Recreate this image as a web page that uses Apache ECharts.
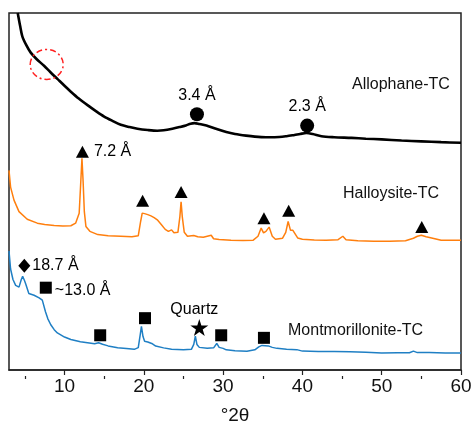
<!DOCTYPE html>
<html>
<head>
<meta charset="utf-8">
<script src="https://cdn.jsdelivr.net/npm/echarts@6/dist/echarts.min.js"></script>
<style>
html,body{margin:0;padding:0;background:#fff;}
#c{width:475px;height:430px;}
</style>
</head>
<body>
<div id="c"></div>
<script>
// ---- Data (2θ in degrees, intensity in arbitrary units with vertical offsets) ----
var allophaneX = [4.1,4.4,4.68,5.2,5.74,6.5,7.42,8.2,9.1,10.0,10.8,11.8,12.9,14.0,15.0,16.0,17.1,18.2,19.2,20.5,21.7,22.5,23.6,24.5,25.3,25.9,26.4,27.0,27.9,29.0,30.4,31.5,32.9,34.0,35.4,36.5,38.0,39.0,39.7,40.5,41.3,42.4,44.0,46.2,48,50,52.5,55,57.5,60];
var allophaneY = [363,350,339.3,330,322.7,316,309.3,303,296,289,283,276,269.3,263,257.7,253.5,249.3,247,245.3,244,243.3,243.7,245.3,247,248.7,250.5,251,250.2,248.7,245.5,242,240,238.3,237.3,236.7,236.7,237.7,239,240,241,240,237.7,236.7,236,235.2,234.5,233.3,232.5,231.7,231];

var halloysiteX = [3.0,3.2,3.63,4.26,5.3,6.57,7.5,8.7,9.8,10.8,11.4,11.85,12.05,12.2,12.35,12.5,12.7,13.2,14.2,15.5,17.1,18.5,19.3,19.6,19.8,20.1,20.5,20.9,21.3,21.7,22.2,22.7,23.1,23.5,23.8,24.3,24.55,24.7,24.85,25.1,25.5,26.3,26.8,27.5,28.5,28.8,29.5,31.0,32.5,33.8,34.4,34.8,35.1,35.4,35.8,36.2,36.6,37.5,37.9,38.2,38.5,38.8,39.0,39.4,40.0,41.5,43.0,44.5,45.1,45.5,47.0,49.0,51.0,53.0,54.0,54.5,55.0,55.6,56.3,57.5,59.0,60.0];
var halloysiteY = [203,186,172.7,161,153.3,149.3,148,147,146.5,146.7,149.3,159.3,191,215.3,191,161,146,141,137.7,136.5,136,135.5,136.5,151,159.5,159,158,156.7,155,152.7,148,143,141,142.5,139.5,140,156,171,156,140,136,136.7,135.5,135,137,133.5,132.7,132,131.7,132,136,144.3,139.5,141,145.3,136,133,134,140,151,142,142,142.5,134.3,133,132.3,132,132.5,136,132.5,131.5,131,131,131.5,134,136,137,135.5,134.3,132,132,132];

var montmorilloniteX = [3.0,3.2,3.5,3.84,4.26,4.55,4.72,4.95,5.1,5.5,6.16,6.8,7.2,7.6,7.9,8.27,8.7,9.1,10.0,10.8,12.0,12.9,13.8,14.3,14.8,15.5,16.7,17.8,18.8,19.3,19.55,19.7,19.9,20.1,20.5,20.7,21.0,21.5,22.5,23.5,25.0,26.0,26.3,26.5,26.7,27.0,28.0,28.8,29.2,29.5,30.0,30.4,31.5,33.0,34.0,34.5,34.9,35.7,36.2,36.8,38.0,39.3,40.0,42.0,44.0,46.0,48.0,50.0,52.0,53.5,54.0,54.5,56.0,58.0,60.0];
var montmorilloniteY = [121,102.7,92,86,84.3,92,95.3,91,87.7,77.7,76,73.3,71,59.3,52,46,41,37.7,33.5,31,28.7,27.7,26.7,27.7,26.2,24.5,22.7,21.8,21,22.7,36,44.3,34,29.3,28.5,29.5,27,24.3,22.5,21,20.5,21,26,34.3,26,23,22,22.5,27,23,22,20.5,19.5,19,20.5,23.5,25,24.5,23,22,21,20.7,19.2,18.7,18.7,18.5,18,17.3,17.5,17.5,19.2,17.7,17.7,17.3,17.3];

// peak markers [2θ, intensity]
var circlePeaks = [[26.7, 260], [40.6, 248.5]];
var circleLabels = ['3.4 Å', '2.3 Å'];
var trianglePeaks = [[12.26, 222], [19.85, 172], [24.7, 181], [35.15, 154.3], [38.27, 162], [55.05, 145.3]];
var triangleLabels = ['7.2 Å', '', '', '', '', ''];
var diamondPeaks = [[4.93, 106]];
var diamondLabels = ['18.7 Å'];
var squarePeaks = [[7.64, 83.7], [14.5, 35.3], [20.15, 52.7], [29.76, 35.3], [35.15, 32.7]];
var squareLabels = ['~13.0 Å', '', '', '', ''];
var starPeaks = [[27.0, 43.3]];
var starLabels = ['Quartz'];

var seriesNames = ['Allophane-TC', 'Halloysite-TC', 'Montmorillonite-TC'];
var majorTicks = [10, 20, 30, 40, 50, 60];
var minorTicks = [5, 15, 25, 35, 45, 55];

// ---- Build ----
function zip(xs, ys) { return xs.map(function (x, i) { return [x, ys[i]]; }); }
var FONT = '"Liberation Sans", Arial, sans-serif';
var TXT = '#000';

function markerSeries(name, pts, labels, symbol, size, pos, dist, offset) {
  return {
    name: name, type: 'scatter', data: pts.map(function (p, i) { return { value: p, label: { formatter: labels[i] } }; }),
    symbol: symbol, symbolSize: size, itemStyle: { color: '#000', opacity: 1 }, z: 5,
    label: { show: true, position: pos, distance: dist, offset: offset || [0, 0], fontSize: 16, fontFamily: FONT, color: TXT, opacity: 1 },
    emphasis: { disabled: true }
  };
}

var chart = echarts.init(document.getElementById('c'), null, { renderer: 'canvas' });
chart.setOption({
  animation: false,
  backgroundColor: '#fff',
  grid: { left: 9, top: 13, right: 14, bottom: 54, show: true, borderColor: '#222', borderWidth: 1.5, backgroundColor: 'transparent' },
  xAxis: [{
    type: 'value', min: 3, max: 60, position: 'bottom',
    name: '°2θ', nameLocation: 'middle', nameGap: 36,
    nameTextStyle: { fontSize: 19, fontFamily: FONT, color: '#111' },
    axisLine: { show: true, lineStyle: { color: '#222', width: 1.5 } },
    axisTick: { show: true, customValues: majorTicks, length: 5, lineStyle: { color: '#222', width: 1.2 } },
    axisLabel: { show: true, customValues: majorTicks, margin: 7, fontSize: 19, fontFamily: FONT, color: '#111' },
    splitLine: { show: false }
  }, {
    // minor ticks: a top-positioned twin axis shifted down onto the bottom edge, ticks pointing down
    type: 'value', min: 3, max: 60, position: 'top', offset: -363, gridIndex: 0,
    axisLine: { show: false },
    axisTick: { show: true, inside: true, customValues: minorTicks, length: 3, lineStyle: { color: '#222', width: 1.2 } },
    axisLabel: { show: false },
    splitLine: { show: false }
  }],
  yAxis: {
    type: 'value', min: 0, max: 363,
    axisLine: { show: false }, axisTick: { show: false }, axisLabel: { show: false }, splitLine: { show: false }
  },
  series: [
    { name: seriesNames[0], type: 'line', data: zip(allophaneX, allophaneY), showSymbol: false, symbol: 'none',
      lineStyle: { color: '#000', width: 2.6 }, smooth: 0.3, z: 3 },
    { name: seriesNames[1], type: 'line', data: zip(halloysiteX, halloysiteY), showSymbol: false, symbol: 'none',
      lineStyle: { color: '#ff7f0e', width: 1.5 }, z: 3 },
    { name: seriesNames[2], type: 'line', data: zip(montmorilloniteX, montmorilloniteY), showSymbol: false, symbol: 'none',
      lineStyle: { color: '#1f7fc4', width: 1.5 }, z: 3 },
    markerSeries('circles', circlePeaks, circleLabels, 'circle', 14, 'top', 4, [0, 0]),
    markerSeries('triangles', trianglePeaks, triangleLabels, 'triangle', [13, 12], 'right', 5, [0, 0]),
    markerSeries('diamonds', diamondPeaks, diamondLabels, 'diamond', [12, 14], 'right', 2, [0, 0]),
    markerSeries('squares', squarePeaks, squareLabels, 'rect', 12, 'right', 3, [0, 3]),
    markerSeries('stars', starPeaks, starLabels, 'path://M50,0 L61,35 L98,35 L68,57 L79,91 L50,70 L21,91 L32,57 L2,35 L39,35 Z', [18, 17], 'top', 1, [-5, 0])
  ],
  graphic: [
    { type: 'text', left: 352, top: 77, style: { text: seriesNames[0], font: '16px ' + FONT, fill: '#111' } },
    { type: 'text', left: 343, top: 186, style: { text: seriesNames[1], font: '16px ' + FONT, fill: '#111' } },
    { type: 'text', left: 288, top: 323, style: { text: seriesNames[2], font: '16px ' + FONT, fill: '#111' } },
    { type: 'ellipse', shape: { cx: 46.7, cy: 64.5, rx: 16.5, ry: 15 }, z: 10,
      style: { fill: 'none', stroke: '#ff2020', lineWidth: 1.5, lineDash: [6, 3, 2, 3] } }
  ]
});
</script>
</body>
</html>
